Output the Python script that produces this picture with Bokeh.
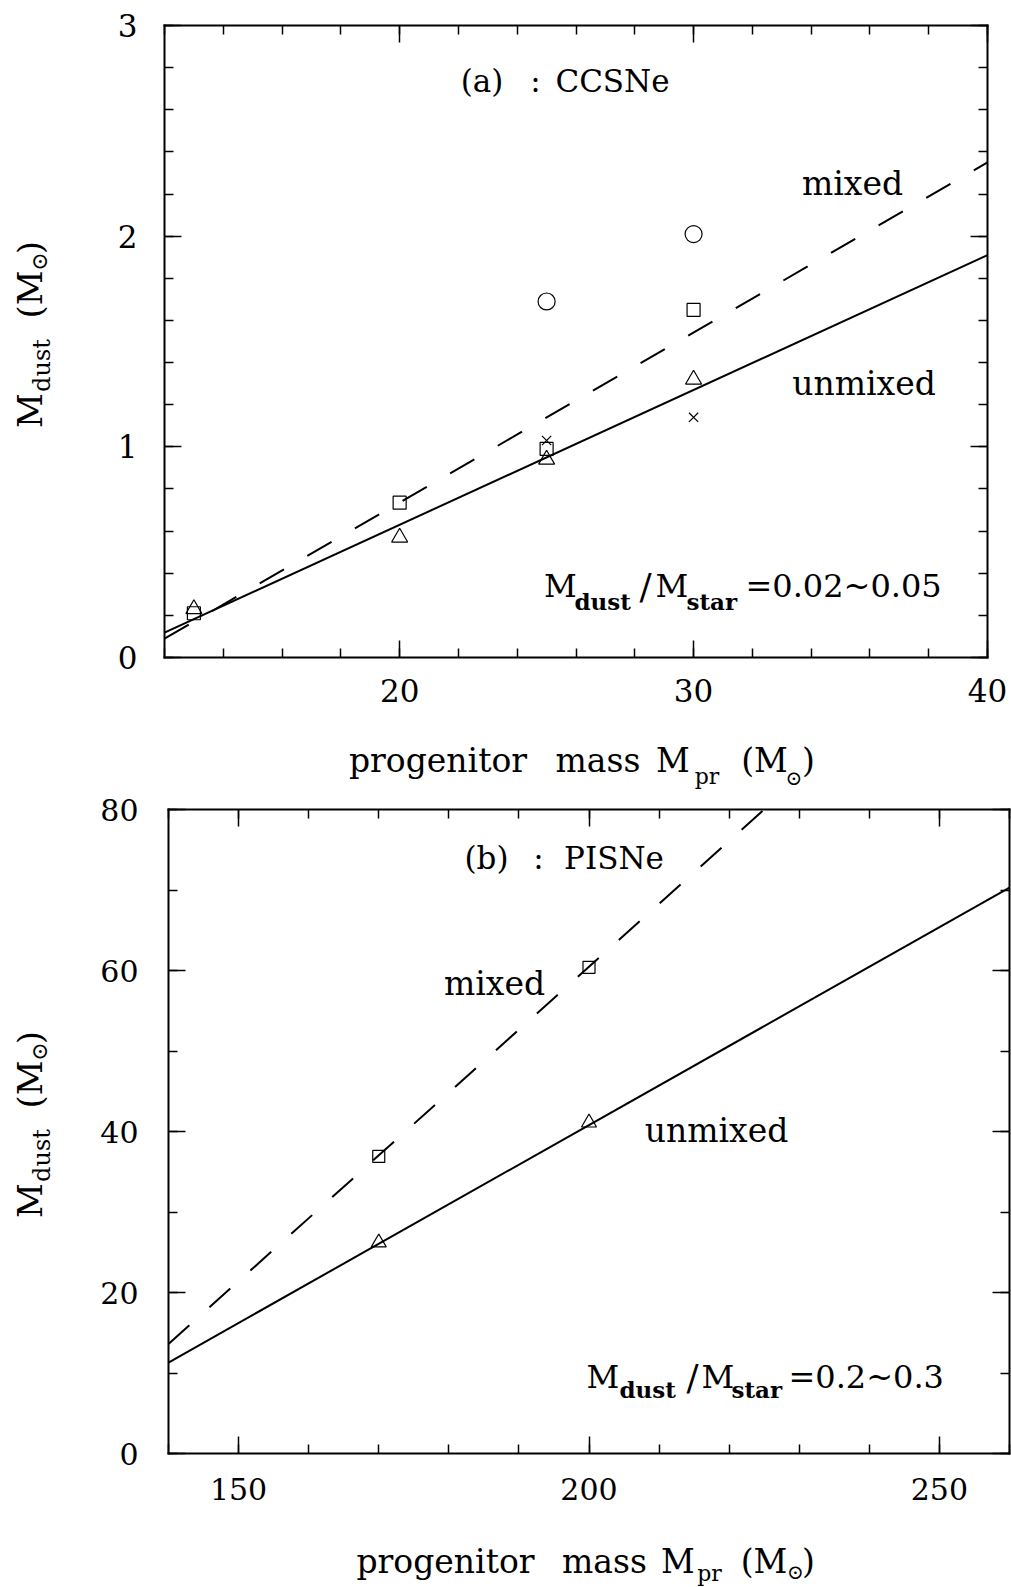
import math
from bokeh.plotting import figure
from bokeh.models import LinearAxis, SingleIntervalTicker, Label, Range1d
from bokeh.layouts import column
from bokeh.embed import file_html
from bokeh.resources import INLINE

# ---------------- data: panel (a) CCSNe ----------------
a_xlim = (12, 40)
a_ylim = (0, 3)
a_circle_x = [25, 30]
a_circle_y = [1.69, 2.01]
a_square_x = [13, 20, 25, 30]
a_square_y = [0.21, 0.735, 0.99, 1.65]
a_tri_x = [13, 20, 25, 30]
a_tri_y = [0.23, 0.57, 0.94, 1.32]
a_cross_x = [25, 30]
a_cross_y = [1.03, 1.14]
a_unmixed_x = [12, 40]
a_unmixed_y = [0.118, 1.91]
a_mixed_x = [12, 40]
a_mixed_y = [0.09, 2.35]

# ---------------- data: panel (b) PISNe ----------------
b_xlim = (140, 260)
b_ylim = (0, 80)
b_square_x = [170, 200]
b_square_y = [36.9, 60.4]
b_tri_x = [170, 200]
b_tri_y = [26.2, 41.1]
b_unmixed_x = [140, 260]
b_unmixed_y = [11.3, 70.3]
b_mixed_x = [140, 225]
b_mixed_y = [13.6, 80.0]

FONT = "DejaVu Serif"
SUN = "\u2299"
W = 1011


def style_axis(ax, show, size, standoff):
    ax.major_tick_in = 17
    ax.major_tick_out = 0
    ax.minor_tick_in = 9
    ax.minor_tick_out = 0
    ax.major_tick_line_width = 1.5
    ax.minor_tick_line_width = 1.5
    ax.major_tick_line_color = "black"
    ax.minor_tick_line_color = "black"
    ax.axis_line_color = "black"
    ax.axis_line_width = 2
    ax.axis_line_cap = "square"
    ax.major_label_text_font = FONT
    ax.major_label_text_font_size = f"{size}px"
    ax.major_label_standoff = standoff
    if show:
        ax.major_label_text_color = "black"
    else:
        ax.major_label_text_alpha = 0


def make_panel(xlim, ylim, box, page_top, height, xint, xminor, yint, yminor,
               lsize, xstand, ystand):
    left, right, top, bottom = box
    ppx = (right - left) / (xlim[1] - xlim[0])
    ppy = (bottom - top) / (ylim[1] - ylim[0])
    xr = Range1d(xlim[0] - left / ppx, xlim[1] + (W - right) / ppx)
    yr = Range1d(ylim[0] - (page_top + height - bottom) / ppy,
                 ylim[1] + (top - page_top) / ppy)
    p = figure(width=W, height=height, x_range=xr, y_range=yr,
               output_backend="svg", toolbar_location=None,
               x_axis_location=None, y_axis_location=None)
    p.min_border_left = p.min_border_right = 0
    p.min_border_top = p.min_border_bottom = 0
    xt = SingleIntervalTicker(interval=xint, num_minor_ticks=xminor)
    yt = SingleIntervalTicker(interval=yint, num_minor_ticks=yminor)
    bottom_ax = LinearAxis(ticker=xt, fixed_location=ylim[0], bounds=xlim)
    top_ax = LinearAxis(ticker=xt, fixed_location=ylim[1], bounds=xlim)
    left_ax = LinearAxis(ticker=yt, fixed_location=xlim[0], bounds=ylim)
    right_ax = LinearAxis(ticker=yt, fixed_location=xlim[1], bounds=ylim)
    style_axis(bottom_ax, True, lsize, xstand)
    style_axis(left_ax, True, lsize, ystand)
    style_axis(top_ax, False, lsize, 0)
    style_axis(right_ax, False, lsize, 0)
    p.add_layout(bottom_ax, "below")
    p.add_layout(left_ax, "left")
    p.add_layout(top_ax, "above")
    p.add_layout(right_ax, "right")
    p.xgrid.visible = False
    p.ygrid.visible = False
    p.outline_line_color = None
    p.background_fill_color = "white"
    p.border_fill_color = "white"
    fx = lambda px: xlim[0] + (px - left) / ppx
    fy = lambda py: ylim[0] + (bottom - py) / ppy
    return p, (fx, fy)


def put(p, conv, text, px, py, size, bold=False, angle=0.0, align="center"):
    # px, py: reference baseline anchor in page pixels; shift "up" (text frame)
    # to compensate the renderer's baseline placement
    fx, fy = conv
    d = 0.31 * size
    px_e = px - d * math.sin(angle)
    py_e = py - d * math.cos(angle)
    p.add_layout(Label(x=fx(px_e), y=fy(py_e), text=text, text_font=FONT,
                       text_font_size=f"{size}px", text_align=align,
                       text_baseline="alphabetic", angle=angle,
                       text_font_style="bold" if bold else "normal",
                       text_color="black"))


R = math.pi / 2
H1 = 793
H2 = 1587 - H1

# ================= panel (a) =================
p1, conv_a = make_panel(a_xlim, a_ylim, (164, 987, 25, 657), 0, H1,
                        10, 5, 1, 5, 31, 21, 27)

p1.line(a_unmixed_x, a_unmixed_y, line_color="black", line_width=2)
p1.line(a_mixed_x, a_mixed_y, line_color="black", line_width=2, line_dash="28 27")
p1.scatter(a_circle_x, a_circle_y, marker="circle", size=17, fill_color=None, line_color="black", line_width=1.2)
p1.scatter(a_square_x, a_square_y, marker="square", size=13, fill_color=None, line_color="black", line_width=1.2)
p1.scatter(a_tri_x, a_tri_y, marker="triangle", size=16, fill_color=None, line_color="black", line_width=1.2)
p1.scatter(a_cross_x, a_cross_y, marker="x", size=13, fill_color=None, line_color="black", line_width=1.2)

put(p1, conv_a, "(a)", 481.5, 90, 31)
put(p1, conv_a, ":", 535, 90, 31)
put(p1, conv_a, "CCSNe", 612, 90, 31)
put(p1, conv_a, "mixed", 852, 193, 33)
put(p1, conv_a, "unmixed", 863.5, 393, 33)
put(p1, conv_a, "M", 560, 595, 32)
put(p1, conv_a, "dust", 574, 608, 23, bold=True, align="left")
put(p1, conv_a, "/", 645, 597, 36)
put(p1, conv_a, "M", 671.5, 595, 32)
put(p1, conv_a, "star", 686, 608, 23, bold=True, align="left")
put(p1, conv_a, "=0.02~0.05", 745, 595, 32, align="left")
# x title
put(p1, conv_a, "progenitor", 437.5, 770, 33)
put(p1, conv_a, "mass", 597.5, 770, 33)
put(p1, conv_a, "M", 672.5, 770, 33)
put(p1, conv_a, "pr", 706.5, 783, 22)
put(p1, conv_a, "(M", 764, 770, 33)
put(p1, conv_a, SUN, 793.5, 784, 20)
put(p1, conv_a, ")", 808, 770, 33)
# y title (rotated)
put(p1, conv_a, "M", 40, 410, 34, angle=R)
put(p1, conv_a, "dust", 49, 365, 24, angle=R)
put(p1, conv_a, "(M", 40, 294, 34, angle=R)
put(p1, conv_a, SUN, 46, 261, 22, angle=R)
put(p1, conv_a, ")", 40, 247, 34, angle=R)

# ================= panel (b) =================
p2, conv_b = make_panel(b_xlim, b_ylim, (168, 1009, 809, 1453), H1, H2,
                        50, 5, 20, 2, 30, 24, 30)

p2.line(b_unmixed_x, b_unmixed_y, line_color="black", line_width=2)
p2.line(b_mixed_x, b_mixed_y, line_color="black", line_width=2, line_dash="28 27")
p2.scatter(b_square_x, b_square_y, marker="square", size=12, fill_color=None, line_color="black", line_width=1.2)
p2.scatter(b_tri_x, b_tri_y, marker="triangle", size=15, fill_color=None, line_color="black", line_width=1.2)

put(p2, conv_b, "(b)", 486, 867, 31)
put(p2, conv_b, ":", 538, 867, 31)
put(p2, conv_b, "PISNe", 613.5, 867, 31)
put(p2, conv_b, "mixed", 494, 993, 33)
put(p2, conv_b, "unmixed", 716, 1140, 33)
put(p2, conv_b, "M", 602.5, 1386, 32)
put(p2, conv_b, "dust", 619, 1396, 23, bold=True, align="left")
put(p2, conv_b, "/", 692, 1388, 36)
put(p2, conv_b, "M", 717.5, 1386, 32)
put(p2, conv_b, "star", 731, 1396, 23, bold=True, align="left")
put(p2, conv_b, "=0.2~0.3", 788, 1386, 32, align="left")
# x title
put(p2, conv_b, "progenitor", 445, 1571, 33)
put(p2, conv_b, "mass", 604, 1571, 33)
put(p2, conv_b, "M", 677.5, 1571, 33)
put(p2, conv_b, "pr", 709, 1580, 22)
put(p2, conv_b, "(M", 763.5, 1571, 33)
put(p2, conv_b, SUN, 795, 1578, 20)
put(p2, conv_b, ")", 808, 1571, 33)
# y title (rotated)
put(p2, conv_b, "M", 40, 1200, 34, angle=R)
put(p2, conv_b, "dust", 49, 1155, 24, angle=R)
put(p2, conv_b, "(M", 40, 1084, 34, angle=R)
put(p2, conv_b, SUN, 46, 1051, 22, angle=R)
put(p2, conv_b, ")", 40, 1037, 34, angle=R)

layout = column(p1, p2, spacing=0)
open("out.html", "w").write(file_html(layout, INLINE))
